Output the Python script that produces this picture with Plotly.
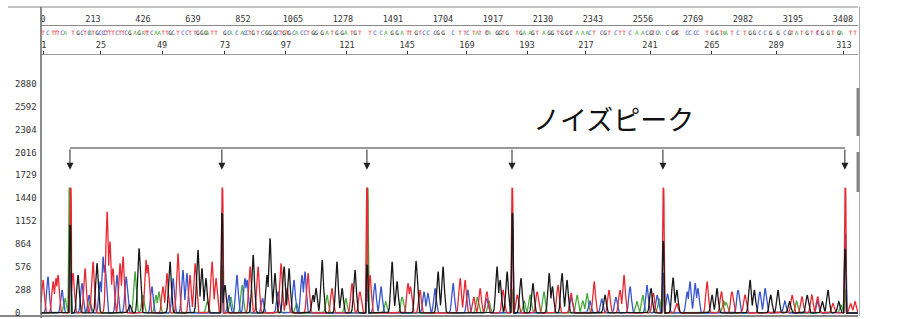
import numpy as np
import plotly.graph_objects as go

# ---------------- data ----------------
scan_ticks = [0, 213, 426, 639, 852, 1065, 1278, 1491, 1704, 1917, 2130, 2343, 2556, 2769, 2982, 3195, 3408]
base_tick_labels = [1, 25, 49, 73, 97, 121, 145, 169, 193, 217, 241, 265, 289, 313]
base_tick_scan = [4, 247, 507, 775, 1035, 1295, 1551, 1806, 2062, 2313, 2586, 2850, 3123, 3412]
y_ticks = [0, 288, 576, 864, 1152, 1440, 1729, 2016, 2304, 2592, 2880]

# peaks per channel: scan position, signal height
red_pos = [0, 43, 55, 64, 128, 179, 213, 273, 285, 298, 328, 341, 439, 447, 511, 528, 575, 626, 648, 720, 737,
           882, 916, 1014, 1040, 1129, 1231, 1316, 1350, 1393, 1555, 1565, 1606, 1777, 1798, 1835, 1862, 1891,
           1960, 2020, 2105, 2194, 2250, 2348, 2411, 2458, 2475, 2600, 2700, 2829, 2890, 2935, 2990, 3191, 3233,
           3275, 3300, 3365, 3440, 3459]
red_h = [415, 394, 436, 478, 499, 561, 645, 1274, 897, 561, 624, 708, 666, 603, 331, 499, 750, 478, 624, 645, 436,
         582, 582, 624, 310, 499, 310, 373, 268, 478, 373, 330, 289, 436, 415, 200, 310, 268,
         290, 230, 268, 352, 250, 394, 289, 289, 478, 250, 120, 394, 268, 268, 230, 226, 205,
         230, 205, 120, 120, 142]

blue_pos = [21, 81, 166, 196, 243, 256, 264, 315, 354, 464, 554, 596, 613, 792, 826, 860, 869, 935, 1001, 1069,
            1103, 1116, 1414, 1440, 1623, 1640, 1670, 1747, 1810, 1890, 2250, 2330, 2380, 2440, 2501, 2573, 2616,
            2660, 2744, 2756, 2778, 2790, 2961, 3054, 3076, 3160, 3300]
blue_h = [457, 289, 373, 226, 394, 708, 600, 478, 457, 331, 436, 540, 499, 226, 478, 436, 415, 184, 268, 415,
          478, 520, 373, 331, 268, 247, 310, 373, 290, 180, 200, 150, 180, 200, 331, 352, 226,
          240, 268, 394, 373, 310, 289, 268, 310, 150, 150]

black_pos = [149, 230, 370, 409, 541, 660, 677, 694, 775, 895, 954, 967, 988, 1027, 1048, 1150, 1163, 1189, 1252,
             1274, 1329, 1487, 1508, 1589, 1683, 1704, 1934, 1947, 1977, 2036, 2087, 2156, 2170, 2211, 2232, 2394,
             2590, 2684, 2700, 2850, 2871, 3012, 3030, 3100, 3131, 3180, 3255, 3320, 3344, 3390]
black_h = [478, 624, 100, 813, 645, 792, 561, 436, 352, 729, 478, 939, 499, 582, 561, 226, 310, 666, 645,
           310, 540, 645, 394, 654, 520, 582, 582, 415, 520, 436, 373, 499, 331, 499, 415, 226,
           310, 444, 289, 226, 310, 415, 289, 226, 289, 142, 226, 142, 289, 142]

green_pos = [94, 200, 392, 426, 481, 494, 700, 800, 848, 1080, 1210, 1290, 1460, 1530, 1850, 1900, 2050, 2075,
             2134, 2275, 2300, 2318, 2530, 2555, 2625, 2900, 2910, 3210, 3400]
green_h = [184, 150, 520, 226, 226, 268, 150, 200, 352, 120, 226, 184, 142, 200, 200, 150, 150, 226,
           268, 226, 150, 247, 142, 226, 180, 150, 130, 150, 100]

# noise spikes (ノイズピーク)
noise_pos = [115, 762, 1380, 1998, 2641, 3416]
red_spike_pos = [117, 763, 1379, 1998, 2642, 3417]
red_spike_h = [1570, 1570, 1570, 1570, 1570, 1570]
green_spike_pos = [112, 760, 1382, 1996, 2639, 3414]
green_spike_h = [1570, 600, 1570, 300, 300, 300]
black_spike_pos = [115, 762, 1380, 1999, 2641, 3416]
black_spike_h = [1100, 1250, 600, 1250, 900, 800]
blue_spike_pos = [116, 761, 1380, 1999, 2642, 3417]
blue_spike_h = [500, 400, 300, 1050, 500, 1000]

# ---------------- rendering ----------------
xs = np.arange(-8.5, 3472, 0.5)


def channel(pos, h, spos, sh):
    y = np.zeros_like(xs)
    for p, v in zip(pos, h):
        y = np.maximum(y, v * np.exp(-0.5 * ((xs - p) / 5.5) ** 2))
    for p, v in zip(spos, sh):
        y = np.maximum(y, v * np.exp(-((xs - p) / 4.5) ** 8))
    return y


COL = {"A": "rgb(70,170,60)", "C": "rgb(55,85,205)", "G": "rgb(25,25,25)", "T": "rgb(232,40,50)"}

fig = go.Figure()
for name, pos, h, sp, sh, col in [
    ("A", green_pos, green_h, green_spike_pos, green_spike_h, COL["A"]),
    ("C", blue_pos, blue_h, blue_spike_pos, blue_spike_h, COL["C"]),
    ("T", red_pos, red_h, red_spike_pos, red_spike_h, COL["T"]),
    ("G", black_pos, black_h, black_spike_pos, black_spike_h, COL["G"]),
]:
    fig.add_trace(go.Scatter(x=xs, y=channel(pos, h, sp, sh), mode="lines",
                             line=dict(color=col, width=1.3), hoverinfo="skip", showlegend=False))

# base call row (derived from the peaks), as small coloured letters
calls = sorted([(p, "A") for p in green_pos] + [(p, "C") for p in blue_pos] +
               [(p, "G") for p in black_pos] + [(p, "T") for p in red_pos])
fig.add_trace(go.Scatter(x=[c[0] for c in calls], y=[0.5] * len(calls), mode="text",
                         text=[c[1] for c in calls],
                         textfont=dict(family="DejaVu Sans Mono", size=6, color=[COL[c[1]] for c in calls]),
                         xaxis="x", yaxis="y2", hoverinfo="skip", showlegend=False))

xr = [-8.5, 3472]
H = 309.0
W = 817.0


def py(p):  # paper y from page pixel row
    return (316 - p) / H


def px(p):  # paper x from page pixel column
    return (p - 41) / W


mono = dict(family="DejaVu Sans Mono", size=8.5, color="#333")

fig.update_layout(
    width=900, height=319, margin=dict(l=41, r=42, t=7, b=3),
    paper_bgcolor="white", plot_bgcolor="white", showlegend=False,
    xaxis=dict(domain=[0, 1], range=xr, showline=False, showticklabels=False, ticks="",
               showgrid=False, zeroline=False, anchor="y"),
    yaxis=dict(domain=[0, py(54)], range=[-38, 3256], showline=False, showticklabels=False,
               ticks="", showgrid=False, zeroline=False),
    yaxis2=dict(domain=[py(38), py(28)], range=[0, 1], visible=False, anchor="x"),
    xaxis2=dict(overlaying="x", anchor="free", position=py(25), side="top", range=xr,
                tickvals=scan_ticks, ticktext=[str(v) for v in scan_ticks], ticks="",
                showline=True, linecolor="#888", linewidth=1, showgrid=False, zeroline=False,
                tickfont=mono),
    xaxis3=dict(overlaying="x", anchor="free", position=py(54), side="top", range=xr,
                tickvals=base_tick_scan, ticktext=[str(v) for v in base_tick_labels],
                ticks="outside", ticklen=3, tickcolor="#333", tickwidth=1,
                showline=True, linecolor="#999", linewidth=1, showgrid=False, zeroline=False,
                tickfont=mono),
)
# invisible traces binding the ruler axes
fig.add_trace(go.Scatter(x=[xr[0]], y=[0], xaxis="x2", mode="markers", marker=dict(opacity=0),
                         hoverinfo="skip", showlegend=False))
fig.add_trace(go.Scatter(x=[xr[0]], y=[0], xaxis="x3", mode="markers", marker=dict(opacity=0),
                         hoverinfo="skip", showlegend=False))

shapes = [
    dict(type="line", xref="paper", yref="paper", x0=px(8), x1=1, y0=1, y1=1, line=dict(color="#888", width=1)),
    dict(type="line", xref="paper", yref="paper", x0=0, x1=0, y0=py(318), y1=1, line=dict(color="#666", width=1.5)),
    dict(type="line", xref="paper", yref="paper", x0=px(0), x1=1, y0=py(316), y1=py(316), line=dict(color="#888", width=2)),
    dict(type="line", xref="paper", yref="paper", x0=px(859.5), x1=px(859.5), y0=py(316), y1=1, line=dict(color="#aaa", width=1)),
    dict(type="line", xref="paper", yref="paper", x0=px(858), x1=px(858), y0=py(136), y1=py(88), line=dict(color="#888", width=3)),
    dict(type="line", xref="paper", yref="paper", x0=px(858), x1=px(858), y0=py(192), y1=py(152), line=dict(color="#888", width=3)),
    # bracket line over the noise peaks
    dict(type="line", xref="x", yref="y", x0=noise_pos[0], x1=noise_pos[-1], y0=2074, y1=2074,
         line=dict(color="#333", width=1)),
]
fig.update_layout(shapes=shapes)

ann = []
for p in noise_pos:
    ann.append(dict(x=p, y=1800, ax=p, ay=2074, xref="x", yref="y", axref="x", ayref="y", text="",
                    showarrow=True, arrowhead=2, arrowsize=1.4, arrowwidth=1, arrowcolor="#222"))
for v in y_ticks:
    ann.append(dict(x=px(13), y=v, xref="paper", yref="y", xanchor="left", yanchor="middle",
                    text=str(v), showarrow=False, font=dict(family="DejaVu Sans Mono", size=9, color="#333")))
ann.append(dict(x=2432, y=2439, xref="x", yref="y", text="ノイズピーク", showarrow=False,
                font=dict(family="Noto Sans CJK JP", size=27, color="#111")))
fig.update_layout(annotations=ann)

fig.write_html("out.html")
